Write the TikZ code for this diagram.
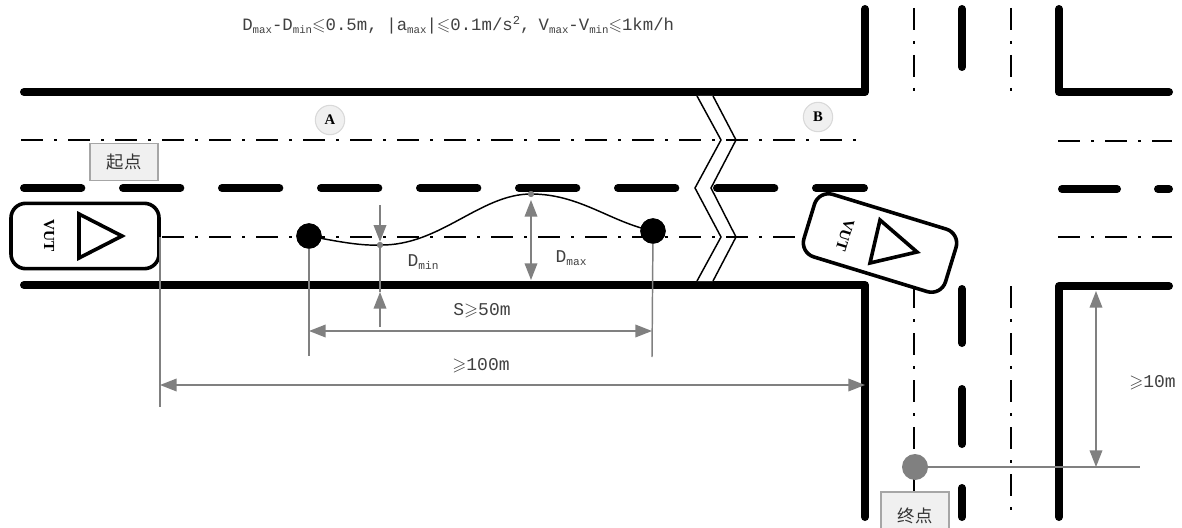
\documentclass[tikz,border=0pt]{standalone}
\usepackage{amssymb}
\usepackage{fontspec}
\setmainfont{Liberation Mono}
\newfontfamily\cjk{Noto Sans CJK SC}
\newfontfamily\serifb{Liberation Serif}
\usetikzlibrary{arrows.meta,calc}
\newcommand\sbs[1]{\raisebox{-0.35ex}{\scalebox{0.62}{#1}}}
\newcommand\sps[1]{\raisebox{0.7ex}{\scalebox{0.7}{#1}}}
\definecolor{dimgrey}{gray}{0.5}
\definecolor{tagfill}{gray}{0.94}
\tikzset{
  x=0.75pt,y=-0.75pt,
  curb/.style={line width=6pt,line cap=round,line join=round,black},
  lanedash/.style={line width=6pt,line cap=round,black,dash pattern=on 43pt off 31.25pt},
  lanebar/.style={line width=6pt,line cap=round,black},
  axisline/.style={line width=2pt,black,dash pattern=on 16.5pt off 8.25pt on 2.25pt off 8.25pt},
  dimline/.style={line width=1.1pt,dimgrey},
  dimtip/.style={-{Triangle[length=12.5pt,width=9.5pt,fill=dimgrey]}},
  dimtips/.style={{Triangle[length=12.5pt,width=9.5pt,fill=dimgrey]}-{Triangle[length=12.5pt,width=9.5pt,fill=dimgrey]}},
  carbody/.style={draw=black,fill=white,line width=2.7pt,rounded corners=11pt,minimum width=111pt,minimum height=49pt,inner sep=0pt},
  cartri/.style={draw=black,fill=white,line width=2.7pt,line join=miter},
  cartext/.style={font=\serifb\bfseries\fontsize{11.5}{11.5}\selectfont,inner sep=0pt},
  tag/.style={draw=black!35,fill=tagfill,line width=0.8pt,minimum width=51pt,minimum height=28pt,inner sep=0pt,font=\cjk\fontsize{13}{13}\selectfont,text=black!80},
  badge/.style={circle,draw=black!15,fill=tagfill,line width=0.8pt,minimum size=22pt,inner sep=0pt,font=\serifb\bfseries\fontsize{11}{11}\selectfont},
  lbl/.style={inner sep=0pt,text=black!75,font=\fontsize{13.5}{13.5}\selectfont},
  toplbl/.style={inner sep=0pt,text=black!75,font=\fontsize{13}{13}\selectfont},
  bigdot/.style={circle,fill=black,minimum size=19pt,inner sep=0pt},
  smalldot/.style={circle,fill=dimgrey,minimum size=4.5pt,inner sep=0pt},
}
\begin{document}
\begin{tikzpicture}
\useasboundingbox (0,0) rectangle (1182,528);
% curbs
\draw[curb] (24,92) -- (865,92) -- (865,9);
\draw[curb] (24,285) -- (865,285) -- (865,517);
\draw[curb] (1059,9) -- (1059,92) -- (1169,92);
\draw[curb] (1059,517) -- (1059,286) -- (1169,286);
% horizontal axis lines
\draw[axisline] (21,140) -- (856,140);
\draw[axisline] (162,237) -- (796,237);
\draw[axisline] (1058,141) -- (1172,141);
\draw[axisline] (1058,237) -- (1172,237);
% horizontal lane dashes
\draw[lanedash] (24,188) -- (864,188);
\draw[lanebar] (1062,189) -- (1117,189);
\draw[lanebar] (1158,189) -- (1169,189);
% vertical axis lines
\draw[axisline] (914,8) -- (914,92);
\draw[axisline] (1011,8) -- (1011,92);
\draw[axisline] (914,286) -- (914,491);
\draw[axisline] (1011,286) -- (1011,510);
% vertical lane bars
\draw[lanebar] (962,9) -- (962,67);
\draw[lanebar] (962,289) -- (962,343);
\draw[lanebar] (962,389) -- (962,444);
\draw[lanebar] (962,488) -- (962,517);
% break symbol
\fill[white] (697,96) -- (721,140) -- (695,188) -- (721,237) -- (697,281) -- (713,281) -- (736,237) -- (711,188) -- (736,140) -- (713,96) -- cycle;
\draw[line width=1.1pt,black] (697,96) -- (721,140) -- (695,188) -- (721,237) -- (697,281);
\draw[line width=1.1pt,black] (713,96) -- (736,140) -- (711,188) -- (736,237) -- (713,281);
\draw[axisline,dash pattern=on 16.5pt off 100pt] (726,140) -- (748,140);
\draw[axisline,dash pattern=on 16.5pt off 100pt] (726,237) -- (748,237);
% badges and tags
\node[badge] (A) at (330,120) {A};
\node[badge] (B) at (818,117) {B};
\node[tag] (start) at (124,162) {起点};
\node[tag,minimum height=36pt] (finish) at (915,516) {终点};
% cars
\node[carbody] (car1) at (85,236) {};
\draw[cartri] (79,214) -- (122,236) -- (79,258) -- cycle;
\node[cartext,rotate=-90] (car1t) at (49,236) {VUT};
\node[carbody,rotate=-17] (car2) at (880,243) {};
\draw[cartri] (880,220) -- (917,252) -- (870,263) -- cycle;
\node[cartext,rotate=-107] (car2t) at (845,235) {VUT};
% points on the trajectory
\node[bigdot] (p0) at (309,236) {};
\node[bigdot] (p1) at (653,231) {};
\node[smalldot] (pmin) at (380,245) {};
\node[smalldot] (pmax) at (531,194) {};
\draw[line width=1.1pt,black] (p0.center) .. controls (335,241) and (360,246) .. (pmin.center)
  .. controls (440,246) and (480,194) .. (pmax.center)
  .. controls (580,194) and (610,222) .. (p1.center);
% dimension helpers
\coordinate (e1) at (160,407);
\coordinate (e0) at (160,237);
\coordinate (s0) at (309,356);
\coordinate (s1) at (652,357);
\coordinate (sa) at (309,331);
\coordinate (sb) at (652,331);
\coordinate (la) at (160,385);
\coordinate (lb) at (865,385);
\coordinate (mintop) at (380,205);
\coordinate (minbot) at (380,327);
\coordinate (minup) at (380,292);
\coordinate (maxa) at (531,200);
\coordinate (maxb) at (531,280);
\coordinate (ra) at (1096,291);
\coordinate (rb) at (1096,467);
\coordinate (rend) at (1140,467);
\node[circle,fill=dimgrey,minimum size=19.5pt,inner sep=0pt] (goal) at (915,467) {};
\draw[dimline] (e0) -- (e1);
\draw[dimline] (p0.center) -- (s0);
\draw[dimline] (p1.center) -- (s1);
\node[bigdot] at (p0) {};
\node[bigdot] at (p1) {};
\draw[dimline,dimtips] (sa) -- (sb);
\draw[dimline,dimtips] (la) -- (lb);
\draw[dimline,dimtip] (mintop) -- (pmin.north);
\draw[dimline] (pmin.center) -- (minup);
\draw[dimline,dimtip] (minbot) -- (minup);
\draw[dimline,dimtips] (maxa) -- (maxb);
\draw[dimline,dimtips] (ra) -- (rb);
\draw[dimline] (goal.center) -- (rend);
\node[smalldot] at (pmin) {};
\node[smalldot] at (pmax) {};
% labels
\node[toplbl,anchor=west] (title) at (242,25) {D\sbs{max}-D\sbs{min}$\leqslant$0.5m,\hspace{2.2pt}\,\,|a\sbs{max}|$\leqslant$0.1m/s\sps{2},\hspace{4pt}\,V\sbs{max}-V\sbs{min}$\leqslant$1km/h};
\node[lbl] (dminl) at (423,262) {D\sbs{min}};
\node[lbl] (dmaxl) at (571,258) {D\sbs{max}};
\node[lbl] (sl) at (482,311) {S$\geqslant$50m};
\node[lbl] (ll) at (481,366) {$\geqslant$100m};
\node[lbl,anchor=east] (hl) at (1176,383) {$\geqslant$10m};
\end{tikzpicture}
\end{document}
